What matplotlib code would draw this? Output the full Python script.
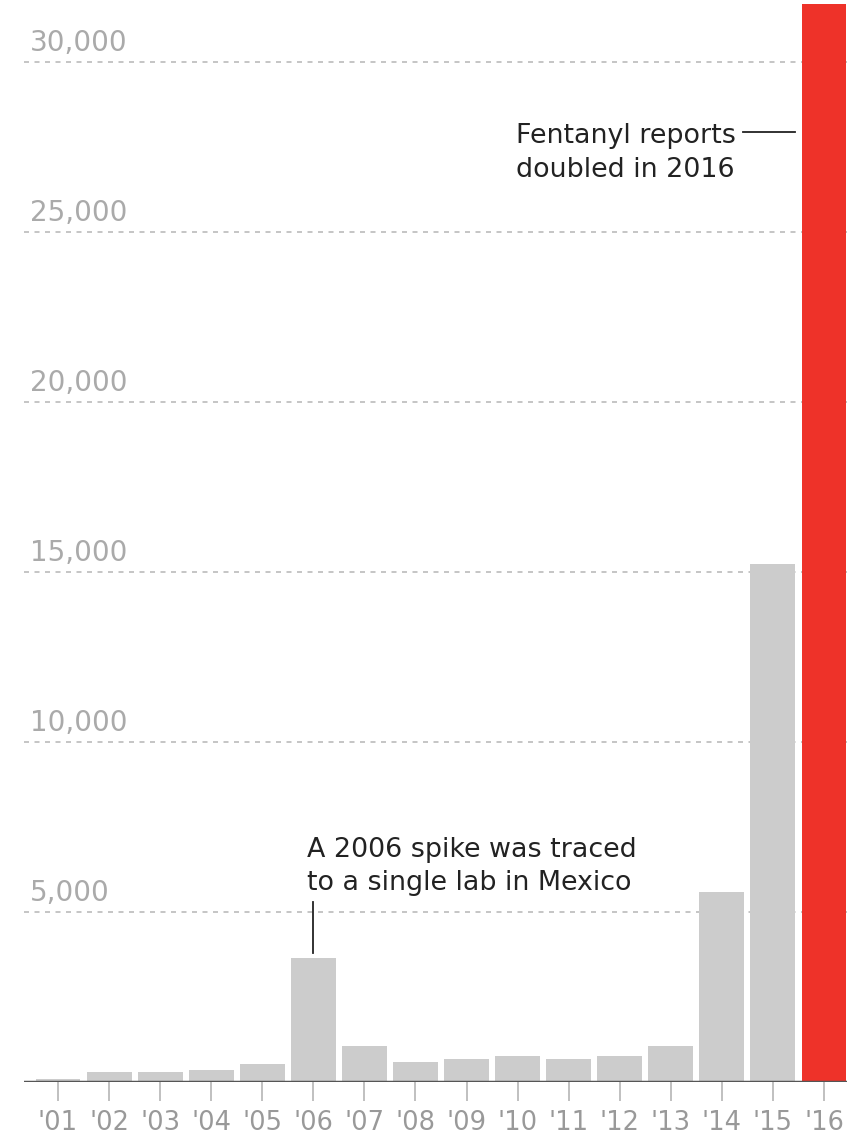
import matplotlib
matplotlib.use('Agg')
import matplotlib.pyplot as plt

years = ["'01", "'02", "'03", "'04", "'05", "'06", "'07", "'08",
         "'09", "'10", "'11", "'12", "'13", "'14", "'15", "'16"]
reports = [100, 290, 290, 350, 530, 3650, 1060, 590,
           680, 760, 680, 760, 1060, 5590, 15240, 31700]
y_ticks = [5000, 10000, 15000, 20000, 25000, 30000]
y_labels = ['5,000', '10,000', '15,000', '20,000', '25,000', '30,000']

plt.rcParams['font.family'] = ['DejaVu Sans']

W, H = 859, 1138
fig = plt.figure(figsize=(W / 100, H / 100), dpi=100)
# axes box in pixel terms: x 24..847, y(top) 2..1082
ax = fig.add_axes([24 / W, (H - 1082) / H, 823 / W, 1080 / H])

x = list(range(len(years)))
colors = ['#cccccc'] * (len(years) - 1) + ['#ee3229']
ax.bar(x, reports, width=0.88, color=colors, zorder=3)

ax.set_xlim(-0.666, 15.45)
ax.set_ylim(0, 31765)

# dashed gridlines with labels sitting on top of them
for v, lab in zip(y_ticks, y_labels):
    ax.axhline(v, color='#bbbbbb', lw=1.2, ls=(0, (3, 3.3)), zorder=1)
    ax.annotate(lab, xy=(6 / 823, v), xycoords=('axes fraction', 'data'),
                xytext=(0, 3.5), textcoords='offset points',
                ha='left', va='bottom', fontsize=20, color='#aaaaaa')

ax.axhline(0, color='#555555', lw=2.5, zorder=4)

ax.set_xticks(x)
ax.set_xticklabels(years, fontsize=18.5, color='#999999')
ax.tick_params(axis='x', length=14, width=1.3, color='#bbbbbb', pad=6)
ax.set_yticks([])
for s in ax.spines.values():
    s.set_visible(False)

# annotations, one line at a time
ax.text(4.876, 6618, 'A 2006 spike was traced', ha='left', va='baseline',
        fontsize=19.4, color='#222222')
ax.text(4.876, 5647, 'to a single lab in Mexico', ha='left', va='baseline',
        fontsize=19.4, color='#222222')
ax.plot([5, 5], [3794, 5294], color='#222222', lw=1.3, zorder=5)

ax.text(8.97, 27618, 'Fentanyl reports', ha='left', va='baseline',
        fontsize=19.4, color='#222222')
ax.text(8.97, 26618, 'doubled in 2016', ha='left', va='baseline',
        fontsize=19.4, color='#222222')
ax.plot([13.41, 14.43], [27940, 27940], color='#222222', lw=1.3, zorder=5)

fig.savefig('out.png', dpi=100)
